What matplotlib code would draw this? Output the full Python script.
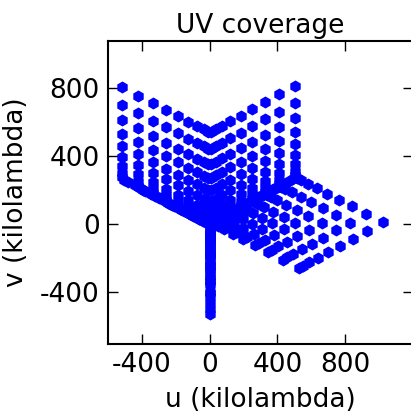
import numpy as np
import matplotlib
matplotlib.use("Agg")
import matplotlib.pyplot as plt

# radial antenna distances along each arm (fraction of arm length), outer -> inner
arm_r = [1.0, 0.813, 0.646, 0.495, 0.362, 0.243, 0.142, 0.07, 0.02]
# projected arm end points in kilolambda
arm_ends = [(505, 276), (-517, 266), (0, -540)]

ticks = [-400, 0, 400, 800]

plt.rcParams['axes.unicode_minus'] = False
plt.rcParams['font.family'] = 'DejaVu Sans'

# antenna positions (u, v) for every arm
pos = [(r * ex, r * ey) for ex, ey in arm_ends for r in arm_r]

# one baseline per antenna pair
u, v = [], []
for a in range(len(pos)):
    for b in range(a + 1, len(pos)):
        u.append(pos[a][0] - pos[b][0])
        v.append(pos[a][1] - pos[b][1])

fig = plt.figure(figsize=(4.11, 4.13), dpi=100)
ax = fig.add_axes([108 / 411, 1 - 344 / 413, 305 / 411, 303 / 413])
ax.plot(u, v, 'h', color='b', mec='b', ms=7.5)

ax.set_xlim(-600, 1200)
ax.set_ylim(-708, 1080)
ax.set_xticks(ticks)
ax.set_yticks(ticks)
ax.tick_params(direction='in', length=7, width=1, top=True, right=True, labelsize=19, pad=6)
for s in ax.spines.values():
    s.set_linewidth(1.5)

ax.set_title("UV coverage", fontsize=19)
ax.set_xlabel("u (kilolambda)", fontsize=19, labelpad=6)
ax.set_ylabel("v (kilolambda)", fontsize=19, labelpad=8)

fig.savefig("out.png", dpi=100)
